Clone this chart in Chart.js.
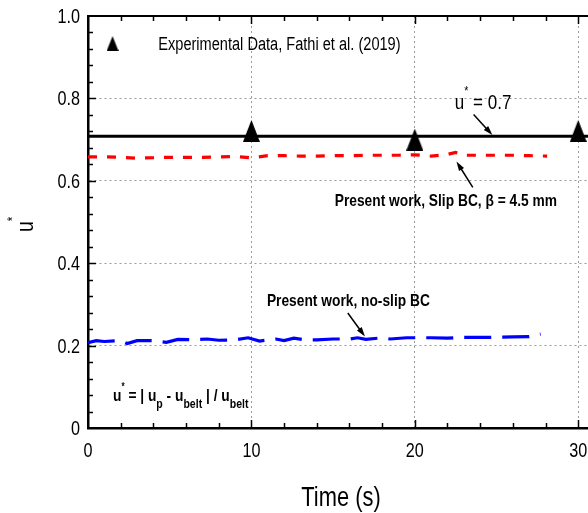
<!DOCTYPE html>
<html>
<head>
<meta charset="utf-8">
<script src="https://cdn.jsdelivr.net/npm/chart.js@4.4.1/dist/chart.umd.min.js"></script>
<style>
  html, body { margin: 0; padding: 0; background: #fff; overflow: hidden; }
  #wrap { width: 588px; height: 513px; position: relative; }
  #chart { display: block; }
</style>
</head>
<body>
<div id="wrap"><canvas id="chart"></canvas></div>
<script>
// time (s) and u*
const expTime = [10, 20, 30];
const expU = [0.721, 0.700, 0.721];

const refTime = [0, 31];
const refU = [0.708, 0.708];

const slipTime = [0, 1, 2, 3, 4, 5, 6, 7, 8, 9, 10, 11, 12, 13, 14, 15, 16, 17, 18, 19, 20, 21, 22, 22.5, 23, 24, 25, 26, 27, 28.1];
const slipU = [0.658, 0.658, 0.657, 0.655, 0.656, 0.657, 0.657, 0.657, 0.658, 0.659, 0.656, 0.661, 0.661, 0.660, 0.660, 0.661, 0.661, 0.662, 0.662, 0.662, 0.663, 0.660, 0.664, 0.669, 0.662, 0.662, 0.662, 0.662, 0.661, 0.660];

const noSlipTime = [0, 0.5, 1, 2, 2.4, 3, 4, 4.8, 5.5, 6.5, 7.3, 8, 9, 9.8, 10.5, 11.5, 12, 12.6, 13.3, 14, 15, 16, 16.5, 17, 18, 18.5, 19.5, 20, 21, 22, 23, 24, 25, 26, 27, 27.7];
const noSlipU = [0.207, 0.212, 0.210, 0.212, 0.205, 0.212, 0.212, 0.208, 0.215, 0.214, 0.216, 0.213, 0.214, 0.219, 0.211, 0.216, 0.212, 0.218, 0.214, 0.214, 0.216, 0.216, 0.219, 0.215, 0.219, 0.216, 0.219, 0.219, 0.219, 0.218, 0.220, 0.220, 0.220, 0.221, 0.222, 0.228];

const xTickLabels = [0, 10, 20, 30];
const yTickLabels = [0, 0.2, 0.4, 0.6, 0.8, 1.0];

const FONT = '"Liberation Sans", Arial, sans-serif';
const NARROW = 0.81; // the original uses a condensed face

function pts(xs, ys) {
    return xs.map((x, i) => ({x: x, y: ys[i]}));
}

// tall triangle marker
function makeTriangle(w, h) {
    const c = document.createElement('canvas');
    c.width = w; c.height = h;
    const g = c.getContext('2d');
    g.fillStyle = '#000';
    g.beginPath();
    g.moveTo(w / 2, 0);
    g.lineTo(w, h);
    g.lineTo(0, h);
    g.closePath();
    g.fill();
    return c;
}
const triMarker = makeTriangle(17, 22);

function arrow(ctx, x1, y1, x2, y2) {
    const a = Math.atan2(y2 - y1, x2 - x1);
    ctx.save();
    ctx.strokeStyle = '#000';
    ctx.fillStyle = '#000';
    ctx.lineWidth = 1.5;
    ctx.beginPath();
    ctx.moveTo(x1, y1);
    ctx.lineTo(x2 - Math.cos(a) * 6, y2 - Math.sin(a) * 6);
    ctx.stroke();
    ctx.beginPath();
    ctx.moveTo(x2, y2);
    ctx.lineTo(x2 - Math.cos(a - 0.3) * 10, y2 - Math.sin(a - 0.3) * 10);
    ctx.lineTo(x2 - Math.cos(a + 0.3) * 10, y2 - Math.sin(a + 0.3) * 10);
    ctx.closePath();
    ctx.fill();
    ctx.restore();
}

function narrowText(ctx, text, x, y, font, align) {
    ctx.save();
    ctx.font = font;
    ctx.textAlign = align || 'left';
    ctx.translate(x, y);
    ctx.scale(NARROW, 1);
    ctx.fillText(text, 0, 0);
    ctx.restore();
}

// write a run of [text, size, dy] pieces left to right
function textRun(ctx, x, y, pieces, weight) {
    pieces.forEach(p => {
        const f = weight + ' ' + p[1] + 'px ' + FONT;
        narrowText(ctx, p[0], x, y + p[2], f);
        ctx.font = f;
        x += ctx.measureText(p[0]).width * NARROW;
    });
}

const decorations = {
    id: 'decorations',
    beforeDatasetsDraw(chart) {
        const ctx = chart.ctx;
        const xs = chart.scales.x, ys = chart.scales.y;
        const a = chart.chartArea;
        ctx.save();
        // top frame
        ctx.strokeStyle = '#000';
        ctx.lineWidth = 2;
        ctx.beginPath();
        ctx.moveTo(a.left, a.top);
        ctx.lineTo(a.right, a.top);
        ctx.stroke();
        // inward ticks
        ctx.lineWidth = 1.5;
        for (let v = 2; v <= 30; v += 2) {
            const px = Math.round(xs.getPixelForValue(v)) + 0.5;
            const len = v % 10 === 0 ? 8 : 5;
            ctx.beginPath();
            ctx.moveTo(px, a.bottom); ctx.lineTo(px, a.bottom - len);
            ctx.moveTo(px, a.top); ctx.lineTo(px, a.top + len);
            ctx.stroke();
        }
        for (let i = 1; i < 25; i++) {
            const py = Math.round(ys.getPixelForValue(i * 0.04)) + 0.5;
            const len = i % 5 === 0 ? 8 : 5;
            ctx.beginPath();
            ctx.moveTo(a.left, py); ctx.lineTo(a.left + len, py);
            ctx.stroke();
        }
        ctx.restore();
    },
    afterDraw(chart) {
        const ctx = chart.ctx;
        const xs = chart.scales.x, ys = chart.scales.y;
        const X = v => xs.getPixelForValue(v), Y = v => ys.getPixelForValue(v);
        ctx.save();
        ctx.fillStyle = '#000';
        ctx.textBaseline = 'alphabetic';

        // tick labels
        const tickFont = '20px ' + FONT;
        xTickLabels.forEach(v => narrowText(ctx, String(v), X(v), 457, tickFont, 'center'));
        yTickLabels.forEach(v => narrowText(ctx, v === 0 ? '0' : v.toFixed(1), 80, Y(v) + 7, tickFont, 'right'));

        // legend
        ctx.drawImage(makeTriangle(12, 15), X(1.5) - 6, Y(0.933) - 7.5);
        narrowText(ctx, 'Experimental Data, Fathi et al. (2019)', X(4.3), Y(0.917), '18px ' + FONT);

        // u* = 0.7 label
        textRun(ctx, X(22.45), Y(0.774), [['u', 21, 0], ['*', 13, -14], [' = 0.7', 21, 0]], '');
        arrow(ctx, X(23.6), Y(0.761), X(24.75), Y(0.711));

        // slip label
        textRun(ctx, X(15.1), Y(0.538), [['Present work, Slip BC, ', 17, 0], ['\u03b2', 17, 0], [' = 4.5 mm', 17, 0]], 'bold');
        arrow(ctx, X(23.55), Y(0.584), X(22.55), Y(0.647));

        // no-slip label
        textRun(ctx, X(10.95), Y(0.297), [['Present work, no-slip BC', 17, 0]], 'bold');
        arrow(ctx, X(15.9), Y(0.279), X(16.95), Y(0.222));

        // definition
        textRun(ctx, X(1.53), Y(0.065), [
            ['u', 17, 0], ['*', 10, -11], [' = | u', 17, 0], ['p', 13, 7],
            [' - u', 17, 0], ['belt', 13, 7], [' | / u', 17, 0], ['belt', 13, 7]
        ], 'bold');

        // axis titles
        narrowText(ctx, 'Time (s)', 341, 506, '27px ' + FONT, 'center');
        ctx.save();
        ctx.translate(33, 226);
        ctx.rotate(-Math.PI / 2);
        textRun(ctx, -6, 0, [['u', 24, 0], ['*', 14, -16]], '');
        ctx.restore();
        ctx.restore();
    }
};

new Chart(document.getElementById('chart').getContext('2d'), {
    type: 'line',
    data: {
        datasets: [
            {
                label: 'u* = 0.7',
                data: pts(refTime, refU),
                borderColor: '#000',
                borderWidth: 3,
                pointRadius: 0,
                order: 3
            },
            {
                label: 'Present work, Slip BC',
                data: pts(slipTime, slipU),
                borderColor: '#ff0000',
                borderWidth: 3.2,
                borderDash: [9, 10],
                pointRadius: 0,
                tension: 0,
                order: 2
            },
            {
                label: 'Present work, no-slip BC',
                data: pts(noSlipTime, noSlipU),
                borderColor: '#0000ff',
                borderWidth: 3.2,
                borderDash: [27, 11],
                pointRadius: 0,
                tension: 0,
                order: 2
            },
            {
                label: 'Experimental Data, Fathi et al. (2019)',
                data: pts(expTime, expU),
                showLine: false,
                pointStyle: triMarker,
                pointRadius: 10,
                order: 1
            }
        ]
    },
    options: {
        responsive: true,
        maintainAspectRatio: false,
        animation: false,
        layout: {autoPadding: false, padding: {top: 16, right: 0, left: 0, bottom: 0}},
        plugins: {
            legend: {display: false},
            tooltip: {enabled: false}
        },
        scales: {
            x: {
                type: 'linear',
                min: 0,
                max: 30.6,
                afterFit: s => { s.height = 85; },
                ticks: {
                    display: false,
                    stepSize: 2,
                    includeBounds: false,
                    autoSkip: false
                },
                grid: {
                    drawTicks: false,
                    lineWidth: 1,
                    color: c => (c.tick && c.tick.value % 10 === 0 && c.tick.value !== 0) ? '#9a9a9a' : 'rgba(0,0,0,0)'
                },
                border: {display: true, color: '#000', width: 2.5, dash: [2, 3]}
            },
            y: {
                min: 0,
                max: 1,
                afterFit: s => { s.width = 88; },
                ticks: {
                    display: false,
                    stepSize: 0.2,
                    includeBounds: false,
                    autoSkip: false
                },
                grid: {
                    drawTicks: false,
                    lineWidth: 1,
                    color: c => (c.tick && c.tick.value > 0.01 && c.tick.value < 0.99) ? '#9a9a9a' : 'rgba(0,0,0,0)'
                },
                border: {display: true, color: '#000', width: 2.5, dash: [2, 3]}
            }
        }
    },
    plugins: [decorations]
});
</script>
</body>
</html>
